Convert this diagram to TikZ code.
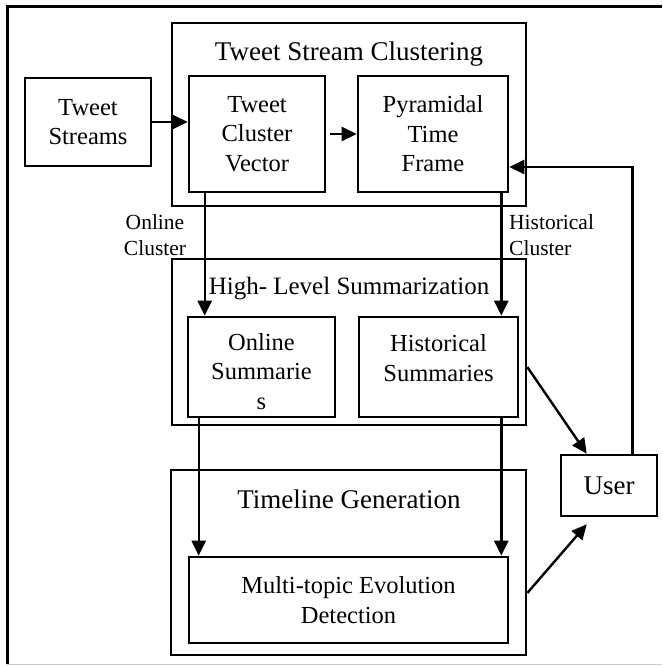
\documentclass[tikz,border=0pt]{standalone}
\usepackage{fontspec}
\setmainfont{Liberation Serif}
\usetikzlibrary{arrows.meta}
\begin{document}
\begin{tikzpicture}[x=1pt,y=-1pt,
  box/.style={draw, line width=2.6pt, align=center, inner sep=0pt,
    font=\fontsize{24.5}{29.5}\selectfont},
  frame/.style={draw, line width=2.6pt, inner sep=0pt},
  ttl/.style={anchor=base, inner sep=0pt, font=\fontsize{27}{32}\selectfont},
  lbl/.style={anchor=base, inner sep=0pt, font=\fontsize{21.5}{26}\selectfont},
  arr/.style={line width=2.4pt, -{Triangle[length=15pt,width=14pt]}},
  ln/.style={line width=2.4pt}]
\useasboundingbox (0,0) rectangle (662,666);
% outer frame (left, top, bottom)
\draw[line width=3pt] (7,664) -- (7,7) -- (662,7);
\draw[line width=1.5pt, black!20] (7,664.5) -- (662,664.5);
% containers
\node[frame, minimum width=354pt, minimum height=183pt] (tsc) at (349,114.5) {};
\node[frame, minimum width=354pt, minimum height=166pt] (hls) at (349,342) {};
\node[frame, minimum width=355pt, minimum height=185pt] (tg) at (348.5,562.5) {};
\node[ttl] (tsct) at (349,61) {Tweet Stream Clustering};
\node[ttl, font=\fontsize{25}{30}\selectfont] (hlst) at (349,294) {High- Level Summarization};
\node[ttl] (tgt) at (349,508) {Timeline Generation};
% boxes
\node[box, minimum width=126pt, minimum height=88pt] (ts) at (88,122) {Tweet\\Streams};
\node[box, minimum width=136pt, minimum height=116pt] (tcv) at (257,134) {Tweet\\Cluster\\Vector};
\node[box, minimum width=150pt, minimum height=116pt] (ptf) at (433,134) {Pyramidal\\Time\\Frame};
\node[box, minimum width=147pt, minimum height=100pt, text height=84pt, text depth=0pt] (os) at (261.5,367) {Online\\Summarie\\s};
\node[box, minimum width=159pt, minimum height=100pt, text height=50pt, text depth=22pt] (hs) at (438.5,367) {Historical\\Summaries};
\node[box, minimum width=319pt, minimum height=86pt] (med) at (348.5,600) {Multi-topic Evolution\\Detection};
\node[box, minimum width=96pt, minimum height=61pt, font=\fontsize{27}{32}\selectfont] (user) at (609,485.5) {User};
% labels (base = last line)
\node[lbl, align=center] (onl) at (155,255) {Online\\Cluster};
\node[lbl, align=left, anchor=base west] (hisl) at (509,255) {Historical\\Cluster};
% connectors
\draw[arr] (ts.east) -- (ts.east -| tcv.west);
\draw[arr, shorten <=4pt] (tcv.east) -- (ptf.west);
\draw[arr] ([xshift=17pt]tcv.south west) -- ([xshift=17pt]tcv.south west |- os.north);
\draw[arr] ([xshift=12pt]os.south west) -- ([xshift=12pt]os.south west |- med.north);
\draw[arr] ([xshift=-8pt]ptf.south east) -- ([xshift=-8pt]ptf.south east |- hs.north);
\draw[arr] ([xshift=-18pt]hs.south east) -- ([xshift=-18pt]hs.south east |- med.north);
\draw[arr] (hs.east -| hls.east) -- ([xshift=27pt]user.north west);
\draw[arr] ([yshift=7pt]med.east -| tg.east) -- ([xshift=27pt,yshift=-7pt]user.south west);
\draw[arr] ([xshift=-26pt]user.north east) |- ([yshift=-33pt]ptf.east);
\end{tikzpicture}
\end{document}
